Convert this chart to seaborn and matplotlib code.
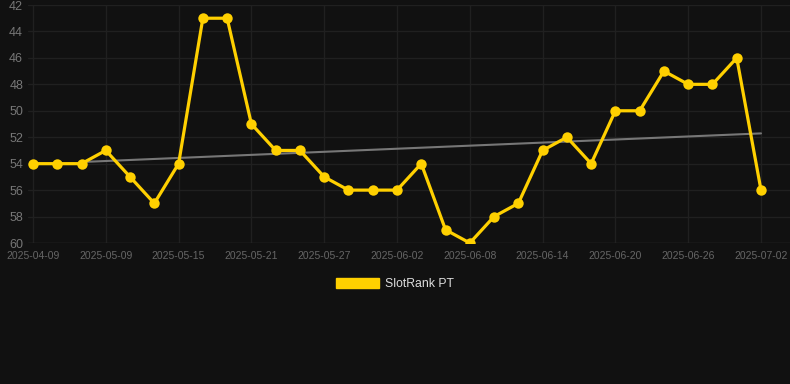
import matplotlib
matplotlib.use("Agg")
import matplotlib.pyplot as plt
import numpy as np
import seaborn as sns
from matplotlib.patches import Patch

dates = [
    "2025-04-09", "2025-04-19", "2025-04-29", "2025-05-09", "2025-05-11",
    "2025-05-13", "2025-05-15", "2025-05-17", "2025-05-19", "2025-05-21",
    "2025-05-23", "2025-05-25", "2025-05-27", "2025-05-29", "2025-05-31",
    "2025-06-02", "2025-06-04", "2025-06-06", "2025-06-08", "2025-06-10",
    "2025-06-12", "2025-06-14", "2025-06-16", "2025-06-18", "2025-06-20",
    "2025-06-22", "2025-06-24", "2025-06-26", "2025-06-28", "2025-06-30",
    "2025-07-02",
]
ranks = [54, 54, 54, 53, 55, 57, 54, 43, 43, 51, 53, 53, 55, 56, 56, 56,
         54, 59, 60, 58, 57, 53, 52, 54, 50, 50, 47, 48, 48, 46, 56]
series_name = "SlotRank PT"
trend_start = 2  # trend line is fitted from the third point on

BG = "#111111"
GRID = "#202020"
GOLD = "#FFD000"

sns.set_theme(style="dark")
plt.rcParams["font.family"] = ["Liberation Sans", "DejaVu Sans"]

fig = plt.figure(figsize=(7.9, 3.84), dpi=100, facecolor=BG)
ax = fig.add_axes([28 / 790, 141 / 384, 762 / 790, 238 / 384])
ax.set_facecolor(BG)

# category positions, labelled with the dates
pos = np.arange(len(dates))

# trend line (least squares over the later points)
coef = np.polyfit(pos[trend_start:], ranks[trend_start:], 1)
trend_x = pos[[trend_start, -1]]
sns.lineplot(x=trend_x, y=np.polyval(coef, trend_x), ax=ax,
             color="#777777", lw=1.5, zorder=2)

sns.lineplot(x=pos, y=ranks, sort=False, ax=ax, color=GOLD, lw=2.3,
             marker="o", markersize=7.5, markeredgewidth=0, zorder=3)

ax.set_ylim(60, 42)
ax.set_yticks(range(42, 61, 2))
ax.set_xlim(-5 / 24.27, len(dates) - 1 + 29 / 24.27)
ax.set_xticks(pos[::3])
ax.set_xticklabels(dates[::3])

ax.grid(True, color=GRID, lw=1)
for s in ax.spines.values():
    s.set_visible(False)
ax.axhline(60, color="#2c2c2c", lw=1, zorder=1)
ax.tick_params(axis="y", colors="#777777", labelsize=9, length=0, pad=3.5)
ax.tick_params(axis="x", colors="#666666", labelsize=7.5, length=0, pad=6)
ax.set_xlabel("")
ax.set_ylabel("")

fig.legend(handles=[Patch(facecolor=GOLD, edgecolor=GOLD, label=series_name)],
           loc="center", bbox_to_anchor=(0.5, 100 / 384), frameon=False,
           handlelength=3.5, handleheight=0.95, handletextpad=0.5,
           fontsize=8.8, labelcolor="#dddddd")

fig.savefig("out.png", dpi=100, facecolor=BG)
